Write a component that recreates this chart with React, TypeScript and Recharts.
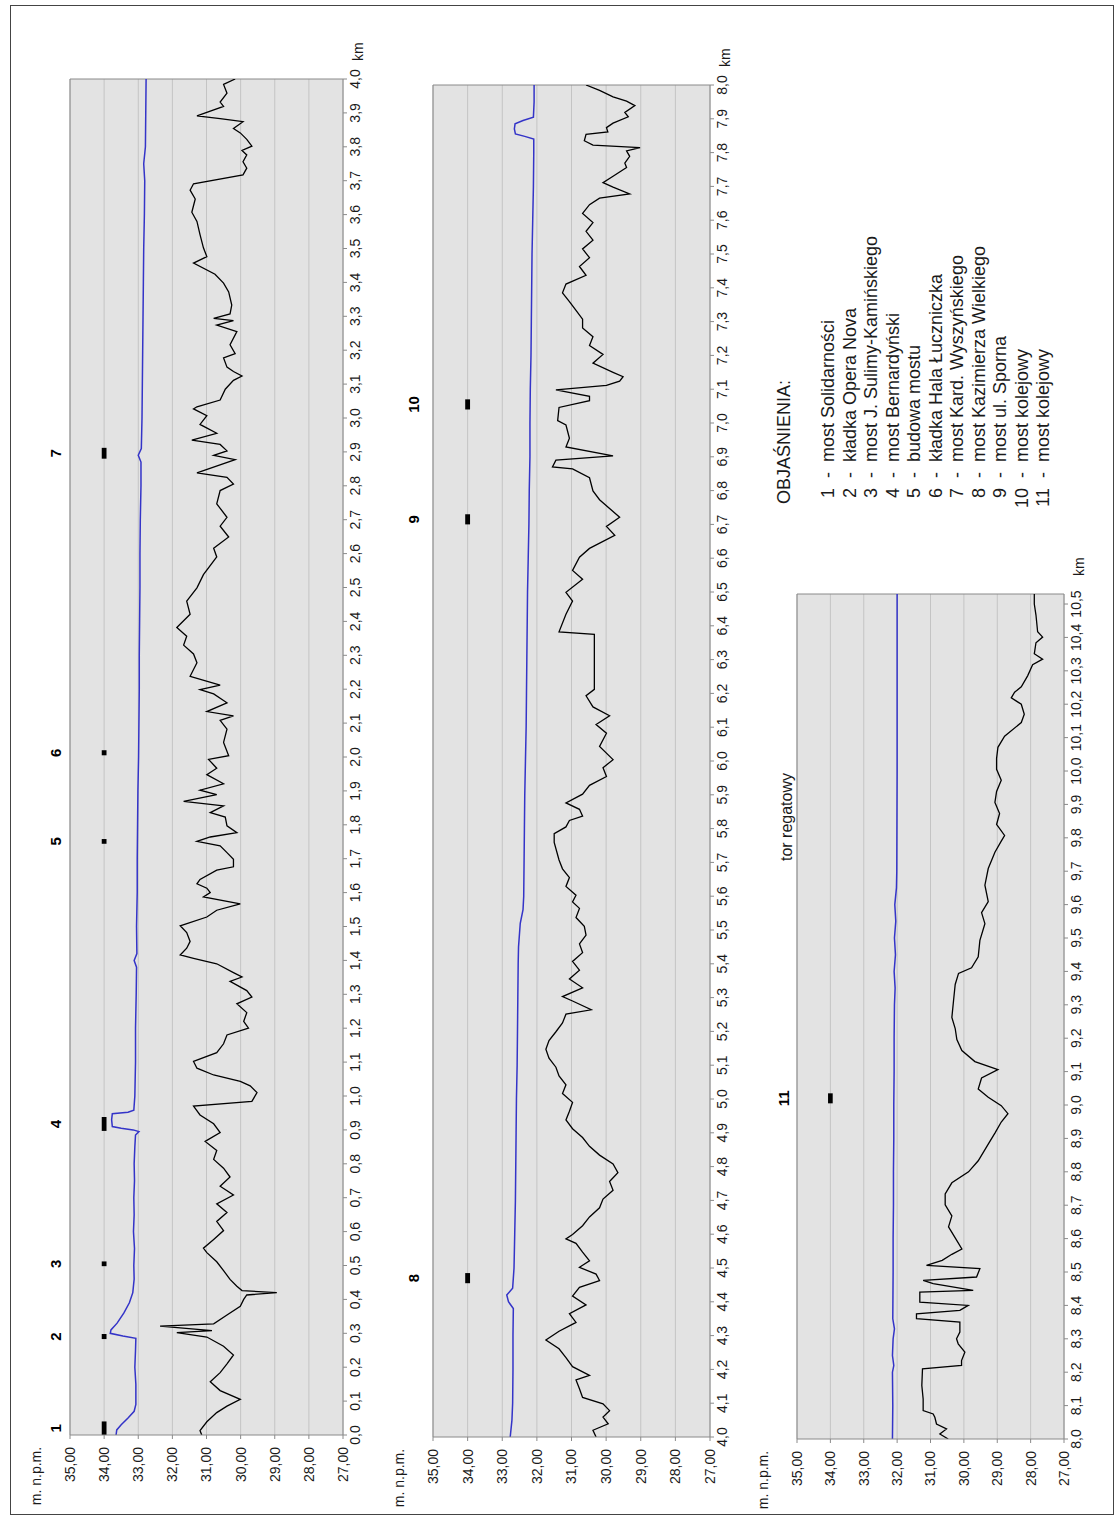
import React from 'react';
import { CartesianGrid, Line, LineChart, ReferenceArea, ReferenceLine, XAxis, YAxis } from 'recharts';

// elevation axis (m n.p.m.)
const ELEV_TICKS = [27, 28, 29, 30, 31, 32, 33, 34, 35];

// km ticks, one list per panel
const KM_TICKS_1 = [0, 0.1, 0.2, 0.3, 0.4, 0.5, 0.6, 0.7, 0.8, 0.9, 1, 1.1, 1.2, 1.3, 1.4, 1.5, 1.6, 1.7, 1.8, 1.9, 2, 2.1, 2.2, 2.3, 2.4, 2.5, 2.6, 2.7, 2.8, 2.9, 3, 3.1, 3.2, 3.3, 3.4, 3.5, 3.6, 3.7, 3.8, 3.9, 4];
const KM_TICKS_2 = [4, 4.1, 4.2, 4.3, 4.4, 4.5, 4.6, 4.7, 4.8, 4.9, 5, 5.1, 5.2, 5.3, 5.4, 5.5, 5.6, 5.7, 5.8, 5.9, 6, 6.1, 6.2, 6.3, 6.4, 6.5, 6.6, 6.7, 6.8, 6.9, 7, 7.1, 7.2, 7.3, 7.4, 7.5, 7.6, 7.7, 7.8, 7.9, 8];
const KM_TICKS_3 = [8, 8.1, 8.2, 8.3, 8.4, 8.5, 8.6, 8.7, 8.8, 8.9, 9, 9.1, 9.2, 9.3, 9.4, 9.5, 9.6, 9.7, 9.8, 9.9, 10, 10.1, 10.2, 10.3, 10.4, 10.5];

// water surface [km, m n.p.m.]
const WATER_1: [number, number][] = [
  [0, 33.65], [0.015, 33.63], [0.03, 33.5], [0.05, 33.3], [0.07, 33.12], [0.09, 33.07], [0.15, 33.07], [0.2, 33.1],
  [0.25, 33.08], [0.285, 33.07], [0.292, 33.45], [0.3, 33.82], [0.31, 33.8], [0.33, 33.62], [0.36, 33.42], [0.39, 33.26],
  [0.42, 33.16], [0.46, 33.12], [0.5, 33.13], [0.55, 33.11], [0.6, 33.14], [0.65, 33.12], [0.7, 33.13], [0.75, 33.11],
  [0.8, 33.12], [0.85, 33.1], [0.885, 33.08], [0.895, 32.98], [0.9, 33.15], [0.905, 33.5], [0.91, 33.76], [0.93, 33.78],
  [0.948, 33.76], [0.952, 33.3], [0.958, 33.13], [1, 33.1], [1.1, 33.08], [1.2, 33.08], [1.3, 33.06], [1.38, 33.05],
  [1.4, 33.12], [1.42, 33.04], [1.5, 33.05], [1.6, 33.03], [1.7, 33.03], [1.8, 33.02], [1.9, 33.01], [2, 32.99],
  [2.1, 32.98], [2.2, 32.97], [2.3, 32.97], [2.4, 32.96], [2.5, 32.95], [2.6, 32.95], [2.7, 32.94], [2.8, 32.92],
  [2.87, 32.92], [2.89, 33.0], [2.91, 32.91], [3, 32.89], [3.1, 32.88], [3.2, 32.87], [3.3, 32.86], [3.4, 32.85],
  [3.5, 32.84], [3.6, 32.82], [3.7, 32.81], [3.75, 32.84], [3.8, 32.79], [3.9, 32.78], [4, 32.77],
];
const WATER_2: [number, number][] = [
  [4, 32.77], [4.05, 32.72], [4.1, 32.7], [4.2, 32.69], [4.3, 32.69], [4.38, 32.68], [4.4, 32.82], [4.42, 32.87],
  [4.44, 32.7], [4.5, 32.66], [4.6, 32.64], [4.7, 32.62], [4.8, 32.61], [4.9, 32.6], [5, 32.59], [5.1, 32.57],
  [5.2, 32.56], [5.3, 32.55], [5.4, 32.54], [5.45, 32.53], [5.52, 32.48], [5.56, 32.4], [5.6, 32.38], [5.7, 32.37],
  [5.8, 32.36], [5.9, 32.35], [6, 32.33], [6.1, 32.31], [6.2, 32.3], [6.3, 32.29], [6.4, 32.28], [6.5, 32.27],
  [6.6, 32.25], [6.7, 32.23], [6.8, 32.22], [6.9, 32.2], [7, 32.2], [7.1, 32.19], [7.2, 32.17], [7.3, 32.16],
  [7.4, 32.15], [7.5, 32.14], [7.6, 32.12], [7.7, 32.1], [7.8, 32.09], [7.84, 32.09], [7.848, 32.35], [7.855, 32.62],
  [7.87, 32.65], [7.885, 32.63], [7.895, 32.4], [7.905, 32.1], [7.95, 32.08], [8, 32.08],
];
const WATER_3: [number, number][] = [
  [8, 32.14], [8.1, 32.13], [8.2, 32.14], [8.22, 32.1], [8.25, 32.14], [8.3, 32.12], [8.33, 32.08], [8.36, 32.13],
  [8.5, 32.12], [8.6, 32.12], [8.7, 32.11], [8.8, 32.11], [8.9, 32.1], [9, 32.1], [9.1, 32.09], [9.2, 32.09],
  [9.3, 32.08], [9.35, 32.06], [9.4, 32.09], [9.45, 32.05], [9.5, 32.08], [9.55, 32.04], [9.6, 32.07], [9.65, 32.02],
  [9.7, 32.01], [10, 32.0], [10.3, 32.0], [10.53, 32.0],
];

// river bed [km, m n.p.m.]
const BED_1: [number, number][] = [
  [0, 31.14], [0.013, 31.19], [0.039, 30.99], [0.066, 30.7], [0.085, 30.4], [0.105, 30.01], [0.131, 30.6], [0.157, 30.89],
  [0.184, 30.6], [0.21, 30.4], [0.236, 30.21], [0.262, 30.5], [0.289, 30.99], [0.302, 31.87], [0.308, 30.84], [0.321, 32.36],
  [0.328, 30.79], [0.354, 30.4], [0.38, 30.01], [0.4, 29.91], [0.413, 29.82], [0.42, 28.94], [0.426, 29.96], [0.439, 30.11],
  [0.459, 30.31], [0.485, 30.5], [0.511, 30.7], [0.538, 30.99], [0.551, 31.09], [0.577, 30.79], [0.603, 30.5], [0.63, 30.7],
  [0.656, 30.4], [0.682, 30.7], [0.708, 30.21], [0.734, 30.6], [0.761, 30.31], [0.787, 30.5], [0.813, 30.79], [0.839, 30.7],
  [0.866, 31.04], [0.892, 30.6], [0.918, 30.79], [0.944, 31.19], [0.97, 31.38], [0.984, 29.67], [1.01, 29.52], [1.03, 29.72],
  [1.043, 30.01], [1.062, 30.79], [1.082, 31.28], [1.102, 31.38], [1.128, 30.7], [1.154, 30.5], [1.18, 30.4], [1.2, 29.77],
  [1.22, 29.91], [1.246, 29.82], [1.272, 30.11], [1.292, 29.67], [1.311, 29.82], [1.338, 30.31], [1.351, 29.96], [1.364, 30.21],
  [1.39, 30.7], [1.406, 31.38], [1.416, 31.77], [1.436, 31.58], [1.456, 31.48], [1.482, 31.58], [1.502, 31.77], [1.528, 30.99],
  [1.548, 30.7], [1.567, 30.01], [1.587, 31.09], [1.6, 30.89], [1.613, 30.99], [1.626, 31.28], [1.639, 31.19], [1.666, 30.7],
  [1.676, 30.21], [1.698, 30.21], [1.718, 30.4], [1.738, 30.6], [1.751, 31.28], [1.764, 30.89], [1.777, 30.11], [1.797, 30.4],
  [1.823, 30.45], [1.836, 30.89], [1.856, 30.5], [1.869, 31.67], [1.889, 30.7], [1.902, 31.19], [1.921, 30.5], [1.948, 30.99],
  [1.967, 30.7], [1.993, 30.94], [2.004, 30.35], [2.043, 30.5], [2.082, 30.4], [2.108, 30.6], [2.121, 30.21], [2.134, 30.99],
  [2.16, 30.4], [2.186, 30.79], [2.199, 31.19], [2.212, 30.6], [2.238, 31.48], [2.278, 31.28], [2.304, 31.38], [2.33, 31.67],
  [2.356, 31.58], [2.382, 31.87], [2.421, 31.48], [2.46, 31.58], [2.499, 31.28], [2.538, 31.09], [2.59, 30.7], [2.616, 30.79],
  [2.649, 30.35], [2.681, 30.6], [2.707, 30.4], [2.747, 30.7], [2.786, 30.6], [2.805, 30.21], [2.825, 30.4], [2.838, 31.28],
  [2.877, 30.16], [2.89, 30.79], [2.903, 30.4], [2.922, 30.6], [2.935, 31.43], [2.955, 30.7], [2.981, 31.19], [3.007, 30.99],
  [3.027, 31.38], [3.033, 31.28], [3.053, 30.6], [3.085, 30.45], [3.111, 30.21], [3.124, 29.96], [3.137, 30.21], [3.15, 30.4],
  [3.177, 30.5], [3.19, 30.16], [3.216, 30.31], [3.255, 30.11], [3.274, 30.7], [3.287, 30.21], [3.294, 30.79], [3.307, 30.31],
  [3.333, 30.26], [3.372, 30.35], [3.398, 30.5], [3.424, 30.75], [3.457, 31.38], [3.476, 30.99], [3.502, 31.09], [3.541, 31.19],
  [3.58, 31.28], [3.607, 31.43], [3.646, 31.33], [3.672, 31.48], [3.691, 31.38], [3.717, 29.93], [3.737, 29.82], [3.756, 29.93],
  [3.776, 29.82], [3.789, 29.96], [3.802, 29.67], [3.822, 29.82], [3.841, 30.01], [3.854, 30.21], [3.874, 29.93], [3.883, 30.6],
  [3.891, 31.28], [3.919, 30.5], [3.932, 30.6], [3.958, 30.4], [3.984, 30.5], [4, 30.16],
];
const BED_2: [number, number][] = [
  [4, 30.29], [4.02, 30.38], [4.039, 29.94], [4.059, 30.09], [4.078, 29.9], [4.098, 30.09], [4.117, 30.68], [4.143, 30.77],
  [4.169, 30.87], [4.182, 30.48], [4.208, 30.97], [4.235, 31.16], [4.261, 31.36], [4.287, 31.74], [4.313, 31.36], [4.339, 30.87],
  [4.365, 31.06], [4.391, 30.58], [4.417, 30.97], [4.443, 30.77], [4.463, 30.19], [4.482, 30.29], [4.502, 30.77], [4.521, 30.48],
  [4.547, 30.68], [4.573, 30.87], [4.586, 31.16], [4.599, 30.97], [4.625, 30.68], [4.651, 30.48], [4.678, 30.19], [4.704, 30.09],
  [4.73, 29.8], [4.756, 29.9], [4.782, 29.66], [4.808, 29.8], [4.834, 30.19], [4.86, 30.48], [4.886, 30.68], [4.912, 30.97],
  [4.938, 31.16], [4.964, 31.06], [4.99, 30.97], [5.016, 31.26], [5.042, 31.16], [5.068, 31.36], [5.094, 31.45], [5.121, 31.65],
  [5.147, 31.74], [5.173, 31.65], [5.199, 31.45], [5.225, 31.26], [5.251, 31.16], [5.264, 30.43], [5.29, 30.97], [5.303, 31.26],
  [5.329, 30.68], [5.355, 31.06], [5.381, 30.77], [5.407, 30.97], [5.433, 30.68], [5.459, 30.77], [5.485, 30.58], [5.511, 30.63],
  [5.537, 30.87], [5.564, 30.77], [5.583, 30.97], [5.603, 30.87], [5.629, 31.16], [5.655, 31.06], [5.681, 31.26], [5.707, 31.36],
  [5.759, 31.5], [5.785, 31.5], [5.805, 31.16], [5.824, 31.06], [5.837, 30.68], [5.857, 30.77], [5.876, 31.16], [5.902, 30.68],
  [5.928, 30.48], [5.954, 29.99], [5.98, 30.09], [6.004, 29.8], [6.043, 30.19], [6.082, 29.99], [6.108, 30.29], [6.134, 29.9],
  [6.16, 30.38], [6.193, 30.58], [6.212, 30.34], [6.375, 30.34], [6.382, 31.36], [6.434, 31.16], [6.473, 30.97], [6.499, 31.16],
  [6.538, 30.68], [6.564, 30.97], [6.603, 30.77], [6.629, 30.48], [6.668, 29.75], [6.694, 29.99], [6.721, 29.61], [6.747, 29.9],
  [6.773, 30.19], [6.799, 30.38], [6.838, 30.48], [6.864, 30.97], [6.87, 31.55], [6.89, 31.45], [6.903, 29.8], [6.929, 31.16],
  [6.955, 31.06], [6.994, 31.16], [7.007, 31.4], [7.046, 31.36], [7.066, 30.48], [7.079, 30.48], [7.098, 31.45], [7.111, 29.99],
  [7.124, 29.61], [7.137, 29.51], [7.15, 29.8], [7.177, 30.38], [7.203, 30.09], [7.229, 30.48], [7.255, 30.38], [7.281, 30.68],
  [7.307, 30.68], [7.333, 30.87], [7.359, 31.06], [7.385, 31.26], [7.411, 31.16], [7.437, 30.58], [7.463, 30.77], [7.489, 30.48],
  [7.515, 30.68], [7.541, 30.38], [7.567, 30.58], [7.593, 30.38], [7.62, 30.68], [7.646, 30.48], [7.665, 30.19], [7.678, 29.32],
  [7.698, 29.8], [7.711, 30.09], [7.73, 29.8], [7.756, 29.41], [7.769, 29.46], [7.789, 29.32], [7.805, 29.41], [7.815, 29.02],
  [7.822, 30.38], [7.835, 30.63], [7.854, 30.58], [7.861, 29.95], [7.874, 29.99], [7.887, 29.8], [7.906, 29.36], [7.919, 29.46],
  [7.939, 29.17], [7.952, 29.41], [7.965, 29.8], [7.984, 30.19], [8, 30.58],
];
const BED_3: [number, number][] = [
  [8, 30.47], [8.015, 30.72], [8.03, 30.52], [8.045, 30.82], [8.065, 30.87], [8.075, 30.92], [8.085, 31.22], [8.12, 31.22],
  [8.16, 31.26], [8.21, 31.24], [8.22, 30.07], [8.235, 30.07], [8.26, 29.97], [8.285, 30.17], [8.3, 30.22], [8.32, 30.12],
  [8.35, 30.12], [8.36, 31.42], [8.375, 31.42], [8.385, 30.12], [8.4, 29.87], [8.41, 31.32], [8.44, 31.32], [8.445, 29.72],
  [8.465, 30.92], [8.475, 31.22], [8.485, 29.62], [8.51, 29.52], [8.52, 31.12], [8.535, 30.65], [8.553, 30.36], [8.569, 30.06],
  [8.602, 30.26], [8.635, 30.46], [8.668, 30.36], [8.701, 30.56], [8.734, 30.56], [8.767, 30.36], [8.8, 29.86], [8.833, 29.57],
  [8.883, 29.27], [8.916, 29.07], [8.949, 28.88], [8.974, 28.68], [8.998, 28.88], [9.023, 29.27], [9.048, 29.57], [9.081, 29.47],
  [9.106, 28.98], [9.13, 29.67], [9.163, 30.06], [9.196, 30.21], [9.229, 30.26], [9.262, 30.36], [9.312, 30.31], [9.361, 30.26],
  [9.394, 30.16], [9.411, 29.77], [9.444, 29.57], [9.493, 29.52], [9.543, 29.37], [9.576, 29.47], [9.609, 29.27], [9.658, 29.37],
  [9.708, 29.27], [9.757, 29.07], [9.79, 28.88], [9.807, 28.78], [9.84, 29.02], [9.873, 28.93], [9.906, 29.07], [9.939, 29.02],
  [9.972, 28.88], [10.005, 29.02], [10.038, 29.02], [10.071, 28.98], [10.104, 28.78], [10.145, 28.28], [10.17, 28.19], [10.2, 28.28],
  [10.219, 28.58], [10.236, 28.48], [10.252, 28.28], [10.285, 28.09], [10.318, 27.94], [10.335, 27.64], [10.351, 27.89], [10.384, 27.84],
  [10.401, 27.64], [10.417, 27.79], [10.467, 27.84], [10.5, 27.89], [10.53, 27.89],
];

// bridges: number and extent along the river [km]
const BRIDGES_1 = [
  { no: '1', from: 0, to: 0.04 },
  { no: '2', from: 0.283, to: 0.298 },
  { no: '3', from: 0.498, to: 0.512 },
  { no: '4', from: 0.897, to: 0.938 },
  { no: '5', from: 1.744, to: 1.758 },
  { no: '6', from: 2.005, to: 2.02 },
  { no: '7', from: 2.88, to: 2.912 },
];
const BRIDGES_2 = [
  { no: '8', from: 4.455, to: 4.485 },
  { no: '9', from: 6.7, to: 6.73 },
  { no: '10', from: 7.04, to: 7.07 },
];
const BRIDGES_3 = [{ no: '11', from: 9.005, to: 9.035 }];

const LEGEND = [
  'most Solidarności',
  'kładka Opera Nova',
  'most J. Sulimy-Kamińskiego',
  'most Bernardyński',
  'budowa mostu',
  'kładka Hala Łuczniczka',
  'most Kard. Wyszyńskiego',
  'most Kazimierza Wielkiego',
  'most ul. Sporna',
  'most kolejowy',
  'most kolejowy',
];

const FONT = '"Liberation Sans", Arial, sans-serif';
const AXIS_GRAY = '#8a8a8a';
const TEXT = '#1a1a1a';

const toPoints = (rows: [number, number][]) => rows.map(([km, h]) => ({ km, h }));
const fmtKm = (v: number) => v.toFixed(1).replace('.', ',');
const fmtH = (v: number) => v.toFixed(2).replace('.', ',');

interface Bridge {
  no: string;
  from: number;
  to: number;
}

interface PanelProps {
  left: number;
  top: number;
  width: number;
  height: number;
  domain: [number, number];
  ticks: number[];
  water: [number, number][];
  bed: [number, number][];
  bridges: Bridge[];
  labelOffset: number;
}

const Y_AXIS_W = 82;
const M_TOP = 60;
const M_RIGHT = 60;
const M_BOTTOM = 10;
const X_AXIS_H = 30;

const Panel = ({ left, top, width, height, domain, ticks, water, bed, bridges, labelOffset }: PanelProps) => (
  <div style={{ position: 'absolute', left: left - Y_AXIS_W, top: top - M_TOP }}>
    <LineChart
      width={Y_AXIS_W + width + M_RIGHT}
      height={M_TOP + height + X_AXIS_H + M_BOTTOM}
      margin={{ top: M_TOP, right: M_RIGHT, bottom: M_BOTTOM, left: 0 }}
    >
      <CartesianGrid vertical={false} fill="#e3e3e3" stroke="#c4c4c4" />
      <XAxis
        type="number"
        dataKey="km"
        domain={domain}
        ticks={ticks}
        interval={0}
        allowDataOverflow
        tickFormatter={fmtKm}
        tickSize={4}
        tickMargin={3}
        height={X_AXIS_H}
        stroke={AXIS_GRAY}
        tick={{ fontSize: 14, fill: TEXT }}
        label={{ value: 'km', position: 'right', offset: 18, fontSize: 14, fill: TEXT }}
      />
      <YAxis
        type="number"
        domain={[27, 35]}
        ticks={ELEV_TICKS}
        interval={0}
        allowDataOverflow
        tickFormatter={fmtH}
        tickSize={4}
        tickMargin={8}
        width={Y_AXIS_W}
        stroke={AXIS_GRAY}
        tick={{ fontSize: 14, fill: TEXT }}
        label={{ value: 'm. n.p.m.', position: 'top', offset: 29, fontSize: 14, fill: TEXT }}
      />
      <ReferenceLine y={35} stroke={AXIS_GRAY} />
      <ReferenceLine x={domain[1]} stroke={AXIS_GRAY} />
      {bridges.map((b) => (
        <ReferenceArea
          key={b.no}
          x1={b.from}
          x2={b.to}
          y1={33.93}
          y2={34.07}
          fill="#000"
          fillOpacity={1}
          stroke="none"
          label={{ value: b.no, position: 'top', offset: labelOffset, fontSize: 15, fontWeight: 'bold', fill: '#000' }}
        />
      ))}
      <Line
        data={toPoints(water)}
        dataKey="h"
        stroke="#3434c8"
        strokeWidth={1.5}
        dot={false}
        activeDot={false}
        isAnimationActive={false}
      />
      <Line
        data={toPoints(bed)}
        dataKey="h"
        stroke="#000"
        strokeWidth={1.3}
        dot={false}
        activeDot={false}
        isAnimationActive={false}
      />
    </LineChart>
  </div>
);

export default function App() {
  return (
    <div
      style={{
        position: 'absolute',
        left: 0,
        top: 0,
        width: 1120,
        height: 1517,
        background: '#fff',
        overflow: 'hidden',
        fontFamily: FONT,
        color: TEXT,
      }}
    >
      <div
        style={{
          position: 'absolute',
          left: 10,
          top: 5,
          width: 1102,
          height: 1508,
          border: '1.5px solid #444',
        }}
      />
      {/* the figure is drawn in landscape and turned a quarter to the left */}
      <div
        style={{
          position: 'absolute',
          left: 0,
          top: 0,
          width: 1517,
          height: 1120,
          transformOrigin: '0 0',
          transform: 'translateY(1517px) rotate(-90deg)',
        }}
      >
        <Panel
          left={82}
          top={70}
          width={1356}
          height={273}
          domain={[0, 4]}
          ticks={KM_TICKS_1}
          water={WATER_1}
          bed={BED_1}
          bridges={BRIDGES_1}
          labelOffset={41}
        />
        <Panel
          left={80}
          top={433}
          width={1352}
          height={277}
          domain={[4, 8]}
          ticks={KM_TICKS_2}
          water={WATER_2}
          bed={BED_2}
          bridges={BRIDGES_2}
          labelOffset={46}
        />
        <Panel
          left={78}
          top={797}
          width={845}
          height={267}
          domain={[8, 10.53]}
          ticks={KM_TICKS_3}
          water={WATER_3}
          bed={BED_3}
          bridges={BRIDGES_3}
          labelOffset={39}
        />
        <div style={{ position: 'absolute', left: 640, top: 777, width: 120, textAlign: 'center', fontSize: 16, lineHeight: '20px' }}>
          tor regatowy
        </div>
        <div style={{ position: 'absolute', left: 1013, top: 773, fontSize: 18, lineHeight: '22px', whiteSpace: 'nowrap' }}>
          OBJAŚNIENIA:
        </div>
        {LEGEND.map((name, i) => (
          <div key={i} style={{ position: 'absolute', left: 989, top: 817 + i * 21.5, fontSize: 18, lineHeight: '22px', whiteSpace: 'nowrap' }}>
            <span style={{ display: 'inline-block', width: 40, textAlign: 'right' }}>{i + 1}</span>
            <span style={{ display: 'inline-block', width: 26, textAlign: 'center' }}>-</span>
            <span>{name}</span>
          </div>
        ))}
      </div>
    </div>
  );
}
